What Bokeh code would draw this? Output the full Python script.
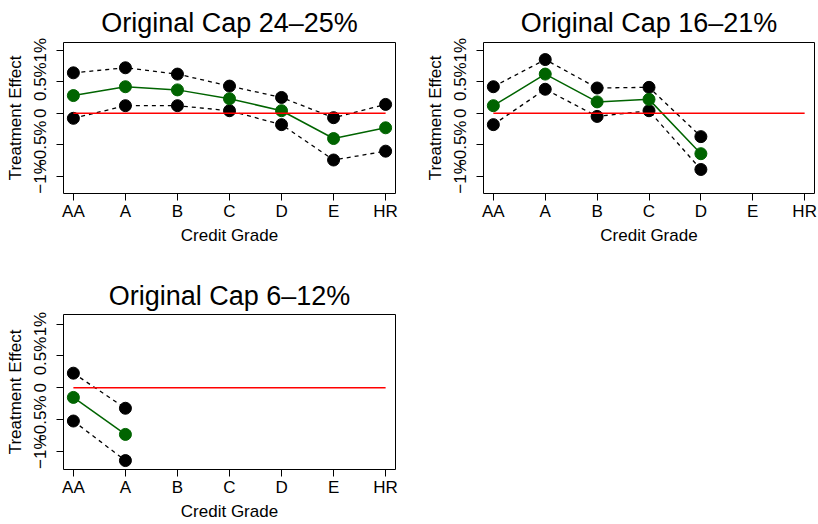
from bokeh.plotting import figure
from bokeh.layouts import gridplot
from bokeh.models import Range1d, FixedTicker
from bokeh.embed import file_html
from bokeh.resources import INLINE

# ---------------- data ----------------
grades = ["AA", "A", "B", "C", "D", "E", "HR"]
y_ticks = [-1, -0.5, 0, 0.5, 1]
y_tick_labels = ["\u22121%", "\u22120.5%", "0", "0.5%", "1%"]
x_label = "Credit Grade"
y_label = "Treatment Effect"

title_24 = "Original Cap 24\u201325%"
grades_24 = ["AA", "A", "B", "C", "D", "E", "HR"]
est_24 = [0.28, 0.42, 0.37, 0.23, 0.04, -0.40, -0.23]
upper_24 = [0.64, 0.72, 0.62, 0.43, 0.25, -0.07, 0.14]
lower_24 = [-0.08, 0.12, 0.12, 0.04, -0.18, -0.74, -0.60]

title_16 = "Original Cap 16\u201321%"
grades_16 = ["AA", "A", "B", "C", "D"]
est_16 = [0.12, 0.62, 0.18, 0.22, -0.64]
upper_16 = [0.42, 0.85, 0.40, 0.41, -0.37]
lower_16 = [-0.18, 0.38, -0.05, 0.04, -0.89]

title_6 = "Original Cap 6\u201312%"
grades_6 = ["AA", "A"]
est_6 = [-0.15, -0.73]
upper_6 = [0.23, -0.32]
lower_6 = [-0.52, -1.14]

zero_line = [0, 0]  # horizontal reference from first to last grade

FONT = "Liberation Sans"


def panel(title, g, est, up, lo, width, height, borders, yr, tstand):
    left, right, top, bottom = borders
    p = figure(width=width, height=height,
               x_range=Range1d(-0.19, len(grades) - 1 + 0.19),
               y_range=Range1d(*yr),
               output_backend="svg", toolbar_location=None,
               min_border_left=left, min_border_right=right,
               min_border_top=top, min_border_bottom=bottom,
               background_fill_color="white", border_fill_color="white",
               outline_line_color="black", outline_line_width=1,
               title=title)
    p.title.text_font = FONT
    p.title.text_font_size = "27px"
    p.title.text_font_style = "normal"
    p.title.align = "center"
    p.title.standoff = tstand
    p.title.text_color = "black"

    p.xgrid.visible = False
    p.ygrid.visible = False

    p.xaxis.ticker = FixedTicker(ticks=list(range(len(grades))))
    p.xaxis.major_label_overrides = {i: gname for i, gname in enumerate(grades)}
    p.yaxis.ticker = FixedTicker(ticks=y_ticks)
    p.yaxis.major_label_overrides = {t: lab for t, lab in zip(y_ticks, y_tick_labels)}
    p.yaxis.major_label_orientation = "vertical"

    for ax in (p.xaxis[0], p.yaxis[0]):
        ax.axis_line_color = None
        ax.minor_tick_line_color = None
        ax.major_tick_in = 0
        ax.major_tick_out = 7
        ax.major_tick_line_color = "black"
        ax.major_tick_line_width = 1
        ax.major_label_text_font = FONT
        ax.major_label_text_font_size = "17px"
        ax.major_label_text_color = "black"
        ax.axis_label_text_font = FONT
        ax.axis_label_text_font_size = "17px"
        ax.axis_label_text_font_style = "normal"
        ax.axis_label_text_color = "black"
    p.xaxis.major_label_standoff = 1
    p.xaxis.axis_label_standoff = 2
    p.yaxis.major_label_standoff = 6
    p.yaxis.axis_label_standoff = 4
    p.xaxis.axis_label = x_label
    p.yaxis.axis_label = y_label

    xs = [grades.index(k) for k in g]
    p.line(xs, up, line_color="black", line_width=1.3, line_dash="4 4")
    p.line(xs, lo, line_color="black", line_width=1.3, line_dash="4 4")
    p.line(xs, est, line_color="#006400", line_width=1.5)
    p.scatter(xs, up, size=12, fill_color="black", line_color="black")
    p.scatter(xs, lo, size=12, fill_color="black", line_color="black")
    p.scatter(xs, est, size=12, fill_color="#006400", line_color="#006400")
    p.line([grades.index(grades[0]), grades.index(grades[-1])], zero_line,
           line_color="red", line_width=1.5)
    return p


p1 = panel(title_24, grades_24, est_24, upper_24, lower_24,
           409, 262, (63, 13, 42, 69), (-1.27, 1.12), 10)
p2 = panel(title_16, grades_16, est_16, upper_16, lower_16,
           409, 262, (74, 4, 42, 69), (-1.27, 1.12), 10)
p3 = panel(title_6, grades_6, est_6, upper_6, lower_6,
           409, 262, (63, 14, 52, 55), (-1.28, 1.15), 7)

grid = gridplot([[p1, p2], [p3, None]], toolbar_location=None)

open("out.html", "w").write(file_html(grid, INLINE))
